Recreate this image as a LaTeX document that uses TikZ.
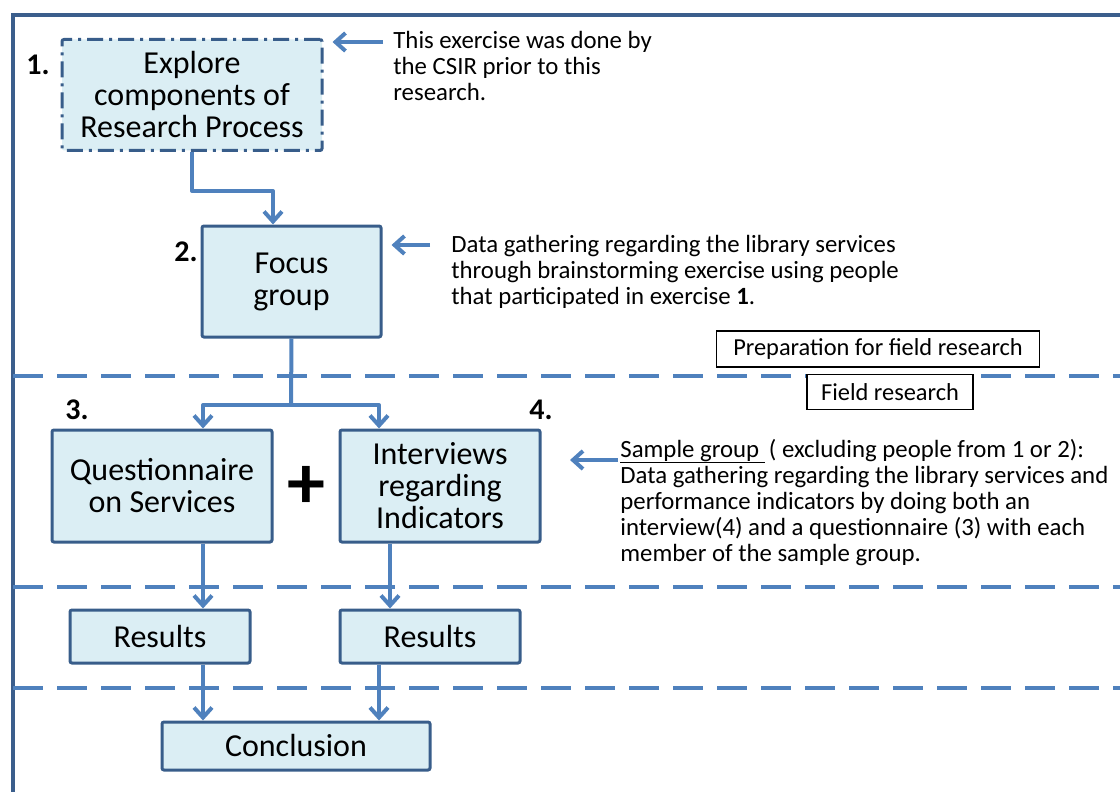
\documentclass[tikz,border=0pt]{standalone}
\usepackage{fontspec}
\setmainfont{Carlito}
\usepackage{tikz}
\usetikzlibrary{calc, arrows.meta, positioning}
\definecolor{frameblue}{RGB}{59,94,140}
\definecolor{lineblue}{RGB}{79,129,189}
\definecolor{boxfill}{RGB}{219,238,244}
\definecolor{boxline}{RGB}{56,93,138}
\newcommand{\lowline}[1]{\setbox0\hbox{#1}\rlap{\rule[-2.8pt]{\wd0}{0.6pt}}\box0}
\tikzstyle{box}   = [rectangle, rounded corners=1pt, draw=boxline, line width=1.5pt, fill=boxfill, align=center, inner sep=0pt, font=\fontsize{16}{16}\selectfont]
\tikzstyle{note}  = [align=left, anchor=north west, inner sep=0pt, font=\fontsize{12.4}{13}\selectfont]
\tikzstyle{phase} = [rectangle, draw=black, line width=0.8pt, fill=white, inner sep=0pt, font=\fontsize{12.2}{13}\selectfont]
\tikzstyle{num}   = [inner sep=0pt, font=\fontsize{15}{15}\selectfont\bfseries]
\tikzstyle{arrow} = [line width=2pt, draw=lineblue, line join=round, -{Straight Barb[length=5pt, width=9pt]}]
\tikzstyle{conn}  = [line width=2pt, draw=lineblue]
\tikzstyle{sep}   = [line width=2pt, draw=lineblue, dash pattern=on 15pt off 7pt]
\tikzstyle{frame} = [line width=2pt, draw=frameblue]

\begin{document}
\begin{tikzpicture}[x=0.5pt, y=-0.5pt]
      \useasboundingbox (0,0) rectangle (1120,792);

      % frame and phase separators
      \draw [frame] (13,792) -- (13,15) -- (1120,15);
      \draw [sep] (13,376) -- (1120,376);
      \draw [sep] (13,587) -- (1120,587);
      \draw [sep] (13,688) -- (1120,688);

      \node (prep)  [phase, minimum width=161.5pt, minimum height=18pt] at (878,349) {Preparation for field research};
      \node (field) [phase, minimum width=83pt, minimum height=17.5pt]  at (890,392) {Field research};

      % steps
      \node (explore) [box, minimum width=130pt, minimum height=55.5pt, dash pattern=on 8pt off 3pt on 1.5pt off 3pt] at (192,95) {Explore\\components of\\Research Process};
      \node (focus)   [box, minimum width=89.5pt, minimum height=55.5pt] at (291.5,281.5) {Focus\\group};
      \node (quest)   [box, minimum width=110pt, minimum height=56pt] at (162,486) {Questionnaire\\on Services};
      \node (interv)  [box, minimum width=100pt, minimum height=56pt] at (440,486) {Interviews\\regarding\\Indicators};
      \node (res1)    [box, minimum width=90pt, minimum height=26.5pt] at (160,636.5) {Results};
      \node (res2)    [box, minimum width=90pt, minimum height=26.5pt] at (430,636.5) {Results};
      \node (concl)   [box, minimum width=134pt, minimum height=24pt] at (296,746) {Conclusion};

      \node (n1) [num] at (38,65)  {1.};
      \node (n2) [num] at (186,252) {2.};
      \node (n3) [num] at (77,410) {3.};
      \node (n4) [num] at (541,410) {4.};
      \node (plus) [inner sep=0pt, font=\fontsize{38}{38}\selectfont\bfseries] at (306,487) {+};

      % notes
      \node (note1) [note] at (393,31)  {This exercise was done by\\the CSIR prior to this\\research.};
      \node (note2) [note] at (451,235) {Data gathering regarding the  library services\\through brainstorming exercise using people\\that participated in exercise \textbf{1}.};
      \node (note4) [note] at (620,439) {\lowline{Sample group\ }\,( excluding people from 1 or 2):\\Data gathering regarding the  library services and\\performance indicators by doing both an\\interview(4) and a questionnaire (3) with each\\member of the sample group.};

      \coordinate (a1) at (383,42);
      \coordinate (a2) at (430,245);
      \coordinate (a4) at (618,460);
      \coordinate (t4) at (570,460);
      \draw [arrow, shorten >=4.5pt] (a1) -- (a1 -| explore.east);
      \draw [arrow, shorten >=4.5pt] (a2) -- (a2 -| focus.east);
      \draw [arrow] (a4) -- (t4);

      % flow
      \coordinate (bend)  at (273,191);
      \coordinate (split) at (291,405);
      \coordinate (colL)  at (203,0);
      \coordinate (colR)  at (379,0);
      \coordinate (colI)  at (390,0);

      \draw [arrow] (explore.south) |- (bend) -- (focus.north -| bend);
      \draw [conn]  (focus.south) -- (split);
      \draw [arrow] (split) -| (quest.north -| colL);
      \draw [arrow] (split) -| (interv.north -| colR);
      \draw [arrow] (quest.south -| colL) -- (res1.north -| colL);
      \draw [arrow] (interv.south -| colI) -- (res2.north -| colI);
      \draw [arrow] (res1.south -| colL) -- (concl.north -| colL);
      \draw [arrow] (res2.south -| colR) -- (concl.north -| colR);

\end{tikzpicture}
\end{document}
